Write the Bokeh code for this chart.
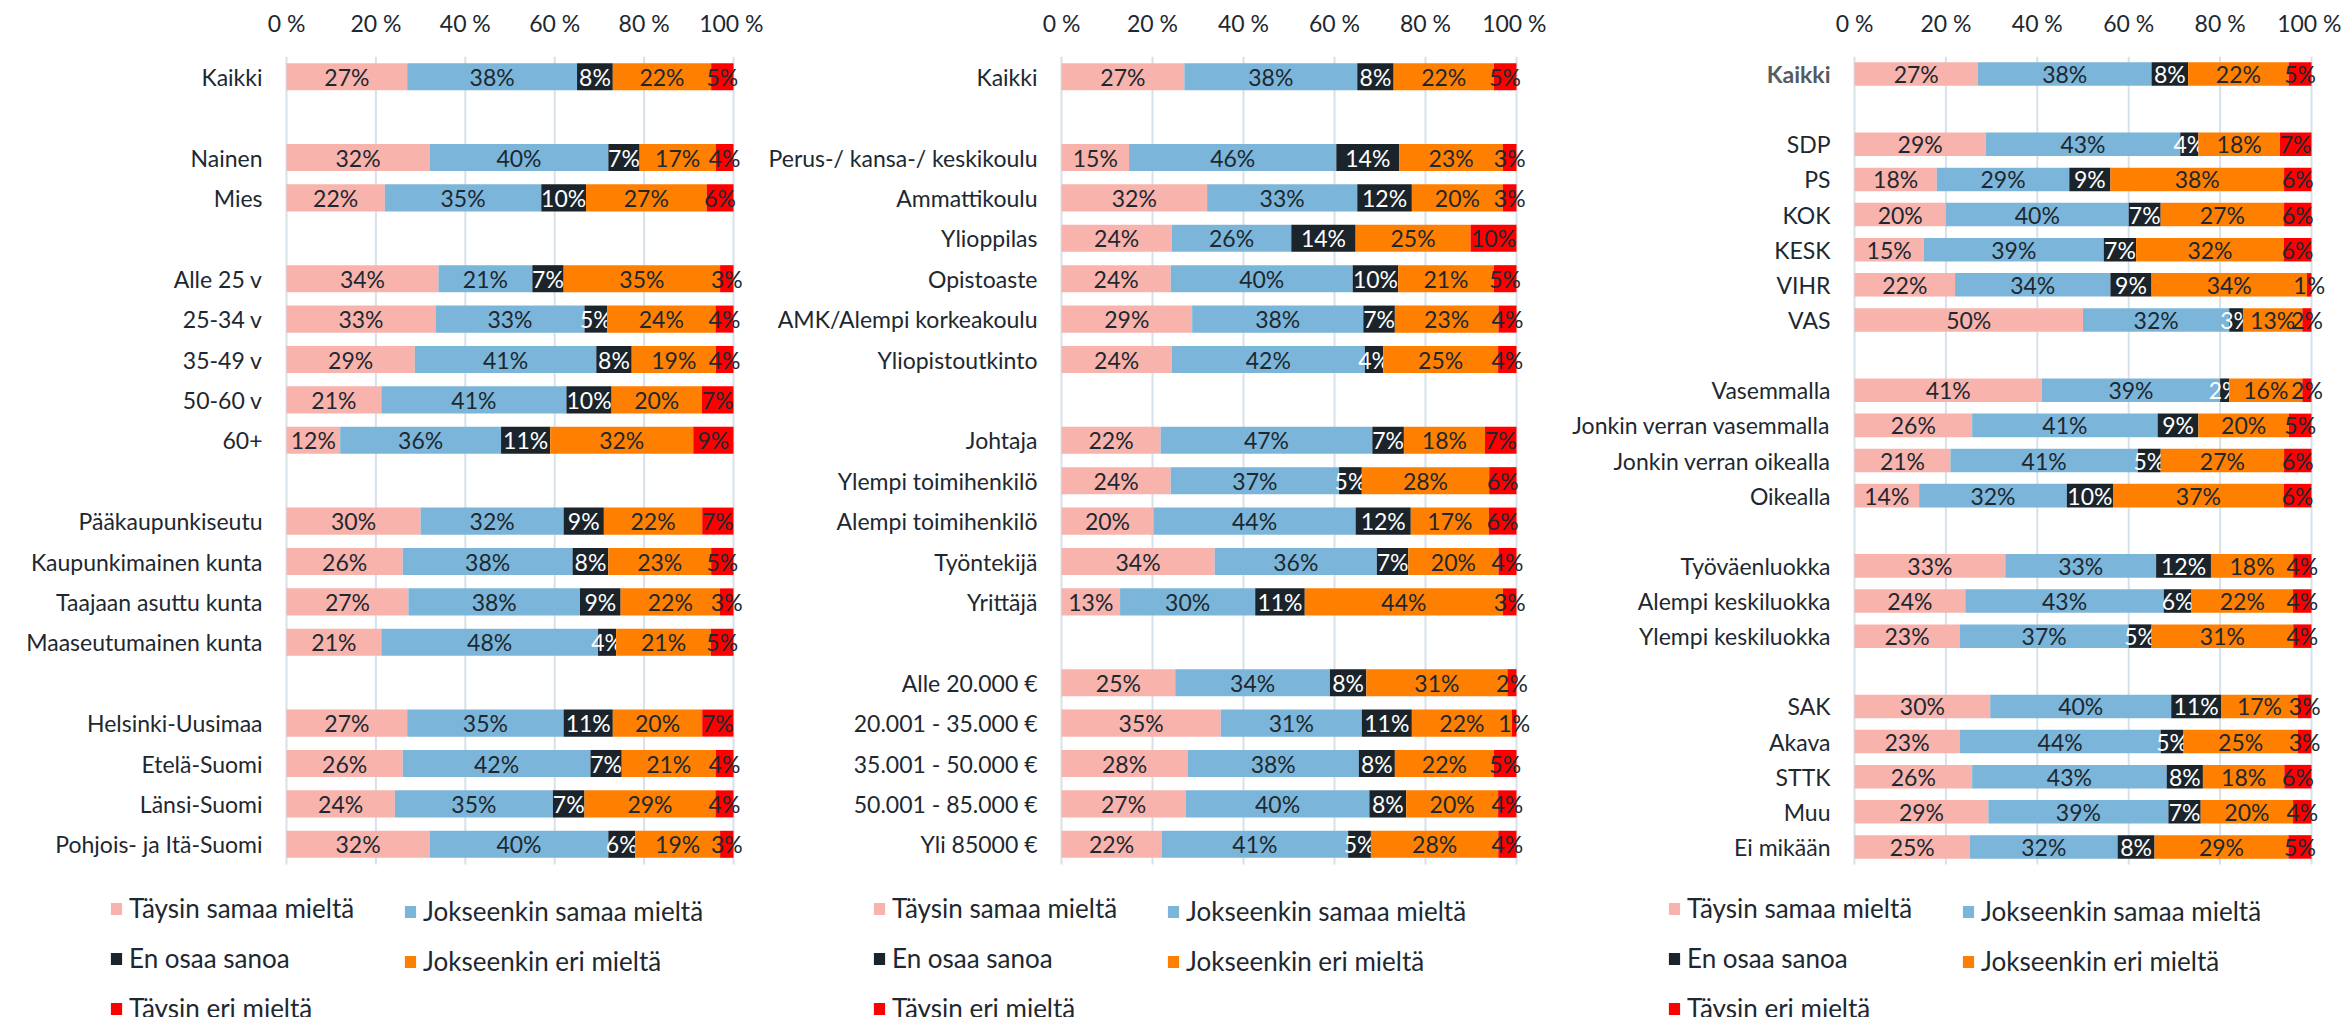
from bokeh.plotting import figure
from bokeh.models import ColumnDataSource, FixedTicker, Range1d, Legend, LegendItem
from bokeh.layouts import row
from bokeh.embed import file_html
from bokeh.resources import INLINE
from bokeh.core.properties import value

# ---------------- data ----------------
series_names = ["Täysin samaa mieltä", "Jokseenkin samaa mieltä", "En osaa sanoa",
                "Jokseenkin eri mieltä", "Täysin eri mieltä"]
x_tick_values = [0, 20, 40, 60, 80, 100]
x_tick_labels = ["0 %", "20 %", "40 %", "60 %", "80 %", "100 %"]

# Panel 1
p1_groups = [["Kaikki"],
             ["Nainen", "Mies"],
             ["Alle 25 v", "25-34 v", "35-49 v", "50-60 v", "60+"],
             ["Pääkaupunkiseutu", "Kaupunkimainen kunta", "Taajaan asuttu kunta", "Maaseutumainen kunta"],
             ["Helsinki-Uusimaa", "Etelä-Suomi", "Länsi-Suomi", "Pohjois- ja Itä-Suomi"]]
p1_taysin_samaa = [27, 32, 22, 34, 33, 29, 21, 12, 30, 26, 27, 21, 27, 26, 24, 32]
p1_jokseenkin_samaa = [38, 40, 35, 21, 33, 41, 41, 36, 32, 38, 38, 48, 35, 42, 35, 40]
p1_en_osaa = [8, 7, 10, 7, 5, 8, 10, 11, 9, 8, 9, 4, 11, 7, 7, 6]
p1_jokseenkin_eri = [22, 17, 27, 35, 24, 19, 20, 32, 22, 23, 22, 21, 20, 21, 29, 19]
p1_taysin_eri = [5, 4, 6, 3, 4, 4, 7, 9, 7, 5, 3, 5, 7, 4, 4, 3]

# Panel 2
p2_groups = [["Kaikki"],
             ["Perus-/ kansa-/ keskikoulu", "Ammattikoulu", "Ylioppilas", "Opistoaste",
              "AMK/Alempi korkeakoulu", "Yliopistoutkinto"],
             ["Johtaja", "Ylempi toimihenkilö", "Alempi toimihenkilö", "Työntekijä", "Yrittäjä"],
             ["Alle 20.000 €", "20.001 - 35.000 €", "35.001 - 50.000 €", "50.001 - 85.000 €", "Yli 85000 €"]]
p2_taysin_samaa = [27, 15, 32, 24, 24, 29, 24, 22, 24, 20, 34, 13, 25, 35, 28, 27, 22]
p2_jokseenkin_samaa = [38, 46, 33, 26, 40, 38, 42, 47, 37, 44, 36, 30, 34, 31, 38, 40, 41]
p2_en_osaa = [8, 14, 12, 14, 10, 7, 4, 7, 5, 12, 7, 11, 8, 11, 8, 8, 5]
p2_jokseenkin_eri = [22, 23, 20, 25, 21, 23, 25, 18, 28, 17, 20, 44, 31, 22, 22, 20, 28]
p2_taysin_eri = [5, 3, 3, 10, 5, 4, 4, 7, 6, 6, 4, 3, 2, 1, 5, 4, 4]

# Panel 3
p3_groups = [["Kaikki"],
             ["SDP", "PS", "KOK", "KESK", "VIHR", "VAS"],
             ["Vasemmalla", "Jonkin verran vasemmalla", "Jonkin verran oikealla", "Oikealla"],
             ["Työväenluokka", "Alempi keskiluokka", "Ylempi keskiluokka"],
             ["SAK", "Akava", "STTK", "Muu", "Ei mikään"]]
p3_taysin_samaa = [27, 29, 18, 20, 15, 22, 50, 41, 26, 21, 14, 33, 24, 23, 30, 23, 26, 29, 25]
p3_jokseenkin_samaa = [38, 43, 29, 40, 39, 34, 32, 39, 41, 41, 32, 33, 43, 37, 40, 44, 43, 39, 32]
p3_en_osaa = [8, 4, 9, 7, 7, 9, 3, 2, 9, 5, 10, 12, 6, 5, 11, 5, 8, 7, 8]
p3_jokseenkin_eri = [22, 18, 38, 27, 32, 34, 13, 16, 20, 27, 37, 18, 22, 31, 17, 25, 18, 20, 29]
p3_taysin_eri = [5, 7, 6, 6, 6, 1, 2, 2, 5, 6, 6, 4, 4, 4, 3, 3, 6, 4, 5]

# ---------------- style ----------------
COLORS = ["#F9B3AD", "#7BB6DA", "#1B242B", "#FF7F00", "#FF0000"]
VALUE_COLORS = ["#1E2830", "#1E2830", "#FFFFFF", "#1E2830", "#1E2830"]
TEXT = "#1E2830"
FONT = "Lato"
H = 1017
TOP = 56          # space for the top axis
BARS_H = 808      # height of the bar area


def make_panel(groups, vals, left_px, frame_px, right_px, legend_x, soft_first=False):
    labels, slots = [], []
    s = 0
    for gi, g in enumerate(groups):
        if gi > 0:
            s += 1
        for lab in g:
            labels.append(lab)
            slots.append(s)
            s += 1
    n = s
    W = left_px + frame_px + right_px
    ppu = frame_px / 100.0
    pitch = BARS_H / n

    p = figure(width=W, height=H,
               x_range=Range1d(-left_px / ppu, 100 + right_px / ppu),
               y_range=Range1d(-0.5 + (H - TOP) / pitch, -0.5),
               x_axis_location="above", y_axis_location=None,
               output_backend="svg", toolbar_location=None,
               min_border_left=0, min_border_right=0, min_border_top=TOP, min_border_bottom=0)
    p.outline_line_color = None
    p.background_fill_color = "white"
    p.border_fill_color = "white"
    p.grid.visible = False

    xa = p.xaxis[0]
    xa.ticker = FixedTicker(ticks=x_tick_values)
    xa.major_label_overrides = {v: l for v, l in zip(x_tick_values, x_tick_labels)}
    xa.axis_line_color = None
    xa.major_tick_line_color = None
    xa.minor_tick_line_color = None
    xa.major_label_text_font = FONT
    xa.major_label_text_font_size = "23px"
    xa.major_label_text_color = TEXT
    xa.major_label_standoff = 14

    # vertical grid lines over the bar area
    p.segment(x0=x_tick_values, x1=x_tick_values,
              y0=[-0.5] * len(x_tick_values), y1=[n - 0.5] * len(x_tick_values),
              line_color="#D7E1EA", line_width=2)

    # category labels
    lab_colors = [TEXT] * len(labels)
    lab_styles = ["normal"] * len(labels)
    if soft_first:
        lab_colors[0] = "#555B61"
        lab_styles[0] = "bold"
    lsrc = ColumnDataSource(dict(y=slots, x=[-24 / ppu] * len(labels), t=labels,
                                 c=lab_colors, st=lab_styles))
    p.text(x="x", y="y", text="t", source=lsrc, text_color="c", text_font_style="st",
           text_font=value(FONT), text_font_size="23px", text_align="right",
           text_baseline="middle")

    totals = [sum(v[i] for v in vals) for i in range(len(labels))]
    lefts = [0.0] * len(labels)
    rends = []
    for k, v in enumerate(vals):
        left = list(lefts)
        right = [lefts[i] + v[i] * 100.0 / totals[i] for i in range(len(labels))]
        src = ColumnDataSource(dict(y=slots, left=left, right=right,
                                    xc=[(a + b) / 2 for a, b in zip(left, right)],
                                    lab=[f"{x}%" for x in v]))
        r = p.hbar(y="y", left="left", right="right", height=0.67, source=src,
                   fill_color=COLORS[k], line_color=None)
        p.text(x="xc", y="y", text="lab", source=src, text_color=VALUE_COLORS[k],
               text_font=value(FONT), text_font_size="23px", text_align="center",
               text_baseline="middle")
        rends.append(r)
        lefts = right

    common = dict(orientation="vertical", padding=0, margin=0, spacing=18,
                  glyph_width=14, glyph_height=15, label_height=26,
                  label_standoff=6, border_line_color=None, background_fill_alpha=0,
                  label_text_font=FONT, label_text_font_size="26px", label_text_color=TEXT)
    col_a = [0, 2, 4]
    col_b = [1, 3]
    leg_a = Legend(items=[LegendItem(label=series_names[i], renderers=[rends[i]]) for i in col_a],
                   location=(legend_x, -7), **common)
    leg_b = Legend(items=[LegendItem(label=series_names[i], renderers=[rends[i]]) for i in col_b],
                   location=(legend_x + 294, 40), **common)
    p.add_layout(leg_a, "center")
    p.add_layout(leg_b, "center")
    return p


f1 = make_panel(p1_groups, [p1_taysin_samaa, p1_jokseenkin_samaa, p1_en_osaa,
                            p1_jokseenkin_eri, p1_taysin_eri], 286, 447, 30, 109)
f2 = make_panel(p2_groups, [p2_taysin_samaa, p2_jokseenkin_samaa, p2_en_osaa,
                            p2_jokseenkin_eri, p2_taysin_eri], 298, 455, 30, 109)
f3 = make_panel(p3_groups, [p3_taysin_samaa, p3_jokseenkin_samaa, p3_en_osaa,
                            p3_jokseenkin_eri, p3_taysin_eri], 308, 457, 30, 121,
                soft_first=True)

layout = row(f1, f2, f3, spacing=0)
open("out.html", "w").write(file_html(layout, INLINE))
